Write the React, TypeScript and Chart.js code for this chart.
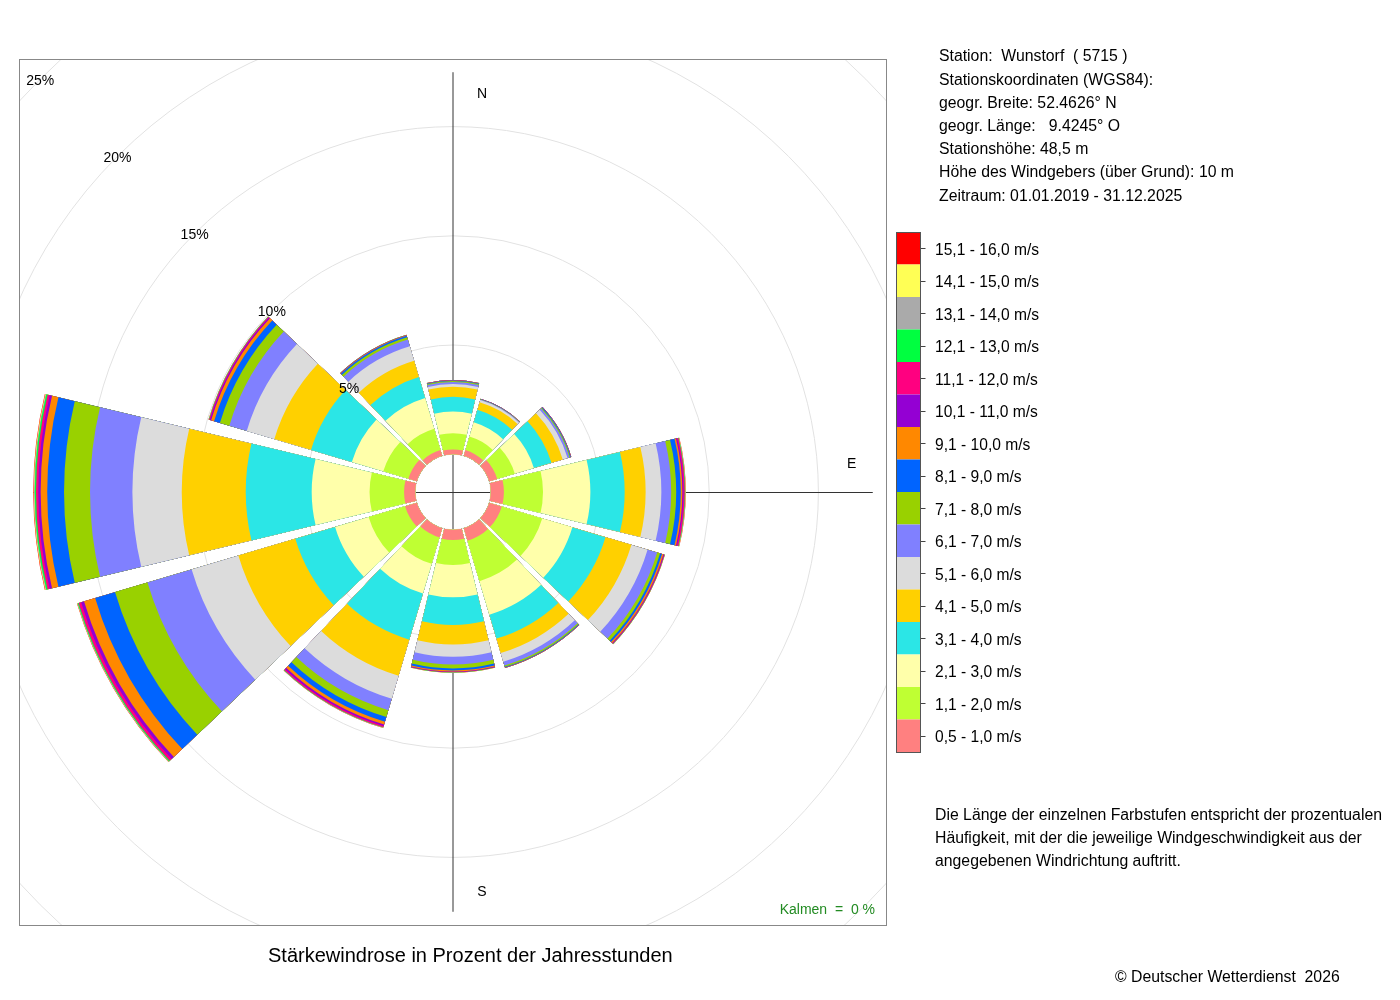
import React, { useEffect, useRef } from 'react';
import { Chart, registerables } from 'chart.js';

Chart.register(...registerables);

// ---- data -------------------------------------------------------------
// wind directions (sector centres, degrees clockwise from north)
const directions = ['N', '30°', '60°', 'O', '120°', '150°', 'S', '210°', '240°', 'W', '300°', '330°'];

// speed classes (legend labels) and colours
const speedClasses = [
  '0,5 - 1,0 m/s', '1,1 - 2,0 m/s', '2,1 - 3,0 m/s', '3,1 - 4,0 m/s',
  '4,1 - 5,0 m/s', '5,1 - 6,0 m/s', '6,1 - 7,0 m/s', '7,1 - 8,0 m/s',
  '8,1 - 9,0 m/s', '9,1 - 10,0 m/s', '10,1 - 11,0 m/s', '11,1 - 12,0 m/s',
  '12,1 - 13,0 m/s', '13,1 - 14,0 m/s', '14,1 - 15,0 m/s', '15,1 - 16,0 m/s',
];
const classColors = [
  '#FF8080', '#BFFF33', '#FFFFAA', '#2BE6E6',
  '#FFD000', '#DCDCDC', '#8080FF', '#99D100',
  '#0064FF', '#FF8800', '#9400D3', '#FF0080',
  '#00FF40', '#AAAAAA', '#FFFF55', '#FF0000',
];

// percentage of hours per speed class, per direction (N, 30, 60, E, 120, 150, S, 210, 240, W, 300, 330)
const s05_10 = [0.22, 0.27, 0.38, 0.60, 0.60, 0.60, 0.47, 0.44, 0.56, 0.51, 0.40, 0.28];
const s11_20 = [0.74, 0.65, 0.84, 1.79, 1.93, 1.93, 1.14, 1.26, 1.74, 1.58, 1.20, 1.01];
const s21_30 = [0.99, 0.68, 0.91, 2.17, 1.44, 1.60, 1.48, 1.42, 1.60, 2.65, 1.50, 1.47];
const s31_40 = [0.68, 0.60, 0.84, 1.57, 1.58, 1.14, 1.27, 2.20, 1.90, 3.02, 1.95, 1.00];
const s41_50 = [0.46, 0.36, 0.54, 0.96, 1.24, 0.69, 0.89, 1.72, 2.72, 2.93, 1.75, 0.78];
const s51_60 = [0.12, 0.10, 0.23, 0.72, 0.77, 0.41, 0.56, 1.10, 2.23, 2.26, 1.32, 0.69];
const s61_70 = [0.10, 0.03, 0.09, 0.45, 0.46, 0.19, 0.36, 0.55, 2.11, 1.94, 0.83, 0.32];
const s71_80 = [0.04, 0.01, 0.04, 0.23, 0.14, 0.06, 0.18, 0.32, 1.55, 1.19, 0.45, 0.11];
const s81_90 = [0.03, 0.01, 0.03, 0.21, 0.09, 0.03, 0.09, 0.23, 0.95, 0.77, 0.28, 0.07];
const s91_100 = [0.01, 0.005, 0.01, 0.07, 0.07, 0.01, 0.05, 0.13, 0.53, 0.30, 0.14, 0.02];
const s101_110 = [0.005, 0.005, 0.005, 0.05, 0.03, 0.005, 0.02, 0.07, 0.14, 0.11, 0.06, 0.01];
const s111_120 = [0.005, 0, 0.005, 0.06, 0.02, 0.005, 0.01, 0.06, 0.12, 0.10, 0.04, 0.01];
const s121_130 = [0, 0, 0, 0.02, 0.01, 0, 0.01, 0.02, 0.04, 0.06, 0.015, 0.005];
const s131_140 = [0, 0, 0, 0.01, 0.005, 0, 0.005, 0.01, 0.02, 0.03, 0.005, 0];
const s141_150 = [0, 0, 0, 0.01, 0.005, 0, 0.005, 0.005, 0.01, 0.02, 0.005, 0];
const s151_160 = [0, 0, 0, 0.01, 0.005, 0, 0, 0.005, 0.01, 0.02, 0.005, 0];

const classValues = [
  s05_10, s11_20, s21_30, s31_40, s41_50, s51_60, s61_70, s71_80,
  s81_90, s91_100, s101_110, s111_120, s121_130, s131_140, s141_150, s151_160,
];

// radial axis
const ringTicks = [5, 10, 15, 20, 25];
const ringTickLabels = ['5%', '10%', '15%', '20%', '25%'];
const axisLetters = ['N', 'E', 'S'];
const axisLetterAngles = [0, 90, 180];

// texts
const stationLines = [
  'Station:  Wunstorf  ( 5715 )',
  'Stationskoordinaten (WGS84):',
  'geogr. Breite: 52.4626° N',
  'geogr. Länge:   9.4245° O',
  'Stationshöhe: 48,5 m',
  'Höhe des Windgebers (über Grund): 10 m',
  'Zeitraum: 01.01.2019 - 31.12.2025',
];
const noteLines = [
  'Die Länge der einzelnen Farbstufen entspricht der prozentualen',
  'Häufigkeit, mit der die jeweilige Windgeschwindigkeit aus der',
  'angegebenen Windrichtung auftritt.',
];
const titleText = 'Stärkewindrose in Prozent der Jahresstunden';
const calmText = 'Kalmen  =  0 %';
const copyrightText = '© Deutscher Wetterdienst  2026';

// ---- settings ------------------------------------------------------------
const FONT = '"Liberation Sans", Arial, Helvetica, sans-serif';
const SECTOR_DEG = 27;
const GAP_DEG = 3;
const R_MIN = -1.731;
const R_MAX = 18.05;
const TY = 2; // vertical text nudge

export default function App() {
  const canvasRef = useRef<HTMLCanvasElement>(null);

  useEffect(() => {
    const canvas = canvasRef.current;
    if (!canvas) return;

    // cumulative stacks per direction
    const cumulative: number[][] = [];
    classValues.forEach((vals, k) => {
      cumulative.push(vals.map((v, d) => (k === 0 ? v : cumulative[k - 1][d] + v)));
    });
    const totals = cumulative[cumulative.length - 1];
    const maxTotal = Math.max(...totals);

    // interleave sectors with transparent gap slots
    const labels: string[] = [];
    directions.forEach((d) => {
      labels.push(d);
      labels.push('');
    });

    const datasets = cumulative.map((cum, k) => {
      const data: number[] = [];
      cum.forEach((v) => {
        data.push(v);
        data.push(0);
      });
      return {
        label: speedClasses[k],
        data,
        backgroundColor: (c: any) => (c.dataIndex % 2 === 0 ? classColors[k] : 'rgba(0,0,0,0)'),
        borderWidth: 0,
        angle: (c: any) => (c.dataIndex % 2 === 0 ? SECTOR_DEG : GAP_DEG),
      };
    });

    const rosePlugin = {
      id: 'rose',
      beforeDatasetsDraw(chart: any) {
        const { ctx, chartArea: a } = chart;
        const s = chart.scales.r;
        const cx = s.xCenter;
        const cy = s.yCenter;
        ctx.save();
        ctx.beginPath();
        ctx.rect(a.left, a.top, a.right - a.left, a.bottom - a.top);
        ctx.clip();
        ctx.strokeStyle = '#e2e2e2';
        ctx.lineWidth = 1;
        [0, ...ringTicks].forEach((t) => {
          ctx.beginPath();
          ctx.arc(cx, cy, s.getDistanceFromCenterForValue(t), 0, Math.PI * 2);
          ctx.stroke();
        });
        const L = s.getDistanceFromCenterForValue(maxTotal);
        ctx.strokeStyle = '#333333';
        ctx.beginPath();
        ctx.moveTo(cx, cy - L);
        ctx.lineTo(cx, cy + L);
        ctx.stroke();
        ctx.beginPath();
        ctx.moveTo(cx - L, cy + 0.5);
        ctx.lineTo(cx + L, cy + 0.5);
        ctx.stroke();
        // direction letters
        ctx.fillStyle = '#000';
        ctx.font = `14px ${FONT}`;
        ctx.textAlign = 'center';
        ctx.textBaseline = 'middle';
        axisLetters.forEach((txt, i) => {
          const ang = (axisLetterAngles[i] * Math.PI) / 180;
          const rr = L * 0.95;
          let x = cx + rr * Math.sin(ang);
          let y = cy - rr * Math.cos(ang) + 1;
          if (axisLetterAngles[i] === 90) y -= 28.5;
          else x += 29;
          ctx.fillText(txt, x, y);
        });
        ctx.restore();
        // clip datasets: frame minus the calm circle
        ctx.save();
        ctx.beginPath();
        ctx.rect(a.left, a.top, a.right - a.left, a.bottom - a.top);
        ctx.arc(cx, cy, s.getDistanceFromCenterForValue(0), 0, Math.PI * 2);
        ctx.clip('evenodd');
      },
      afterDatasetsDraw(chart: any) {
        const { ctx, chartArea: a } = chart;
        ctx.restore();
        const s = chart.scales.r;
        const cx = s.xCenter;
        const cy = s.yCenter;
        // ring labels
        ctx.save();
        ctx.fillStyle = '#000';
        ctx.font = `14px ${FONT}`;
        ctx.textAlign = 'center';
        ctx.textBaseline = 'middle';
        ringTicks.forEach((t, i) => {
          const r = s.getDistanceFromCenterForValue(t) / Math.SQRT2;
          ctx.fillText(ringTickLabels[i], cx - r, cy - r + 1.5);
        });
        // frame
        ctx.strokeStyle = '#888888';
        ctx.lineWidth = 1;
        ctx.strokeRect(a.left - 0.5, a.top - 0.5, a.right - a.left + 1, a.bottom - a.top + 1);
        // calm text
        ctx.fillStyle = '#228B22';
        ctx.textAlign = 'right';
        ctx.fillText(calmText, a.right - 11, a.bottom - 17 + TY);
        ctx.restore();
      },
      afterDraw(chart: any) {
        const { ctx } = chart;
        ctx.save();
        ctx.fillStyle = '#000';
        ctx.textBaseline = 'middle';
        ctx.textAlign = 'left';
        ctx.font = `15.8px ${FONT}`;
        stationLines.forEach((t, i) => ctx.fillText(t, 939, 55 + TY + i * 23.2));
        noteLines.forEach((t, i) => ctx.fillText(t, 935, 814 + TY + i * 23));
        ctx.fillText(copyrightText, 1115, 976 + TY);
        ctx.font = `20px ${FONT}`;
        ctx.fillText(titleText, 268, 954 + TY);
        // legend colour bar
        const boxX = 896.5;
        const boxW = 24;
        const boxTop = 232;
        const boxH = 32.5;
        const n = speedClasses.length;
        ctx.font = `15.6px ${FONT}`;
        for (let i = 0; i < n; i++) {
          const k = n - 1 - i;
          const y = boxTop + i * boxH;
          ctx.fillStyle = classColors[k];
          ctx.fillRect(boxX, y, boxW, boxH);
          ctx.strokeStyle = '#444';
          ctx.beginPath();
          ctx.moveTo(boxX + boxW, Math.round(y + boxH / 2) + 0.5);
          ctx.lineTo(boxX + boxW + 5, Math.round(y + boxH / 2) + 0.5);
          ctx.stroke();
          ctx.fillStyle = '#000';
          ctx.fillText(speedClasses[k], 935, y + boxH / 2 + TY);
        }
        ctx.strokeStyle = '#555';
        ctx.lineWidth = 1;
        ctx.strokeRect(boxX, boxTop + 0.5, boxW, boxH * n);
        ctx.restore();
      },
    };

    const chart = new Chart(canvas, {
      type: 'polarArea',
      data: { labels, datasets: datasets as any },
      options: {
        responsive: false,
        animation: false,
        layout: { padding: { left: 20, top: 60, right: 514, bottom: 75 } },
        plugins: { legend: { display: false }, tooltip: { enabled: false } },
        events: [],
        scales: {
          r: {
            min: R_MIN,
            max: R_MAX,
            startAngle: -SECTOR_DEG / 2,
            ticks: { display: false },
            grid: { display: false },
            angleLines: { display: false },
            pointLabels: { display: false },
          },
        },
      } as any,
      plugins: [rosePlugin],
    });
    return () => chart.destroy();
  }, []);

  return (
    <div style={{ position: 'absolute', left: 0, top: 0, width: 1400, height: 1000, background: '#fff' }}>
      <canvas ref={canvasRef} width={1400} height={1000} style={{ display: 'block' }} />
    </div>
  );
}
